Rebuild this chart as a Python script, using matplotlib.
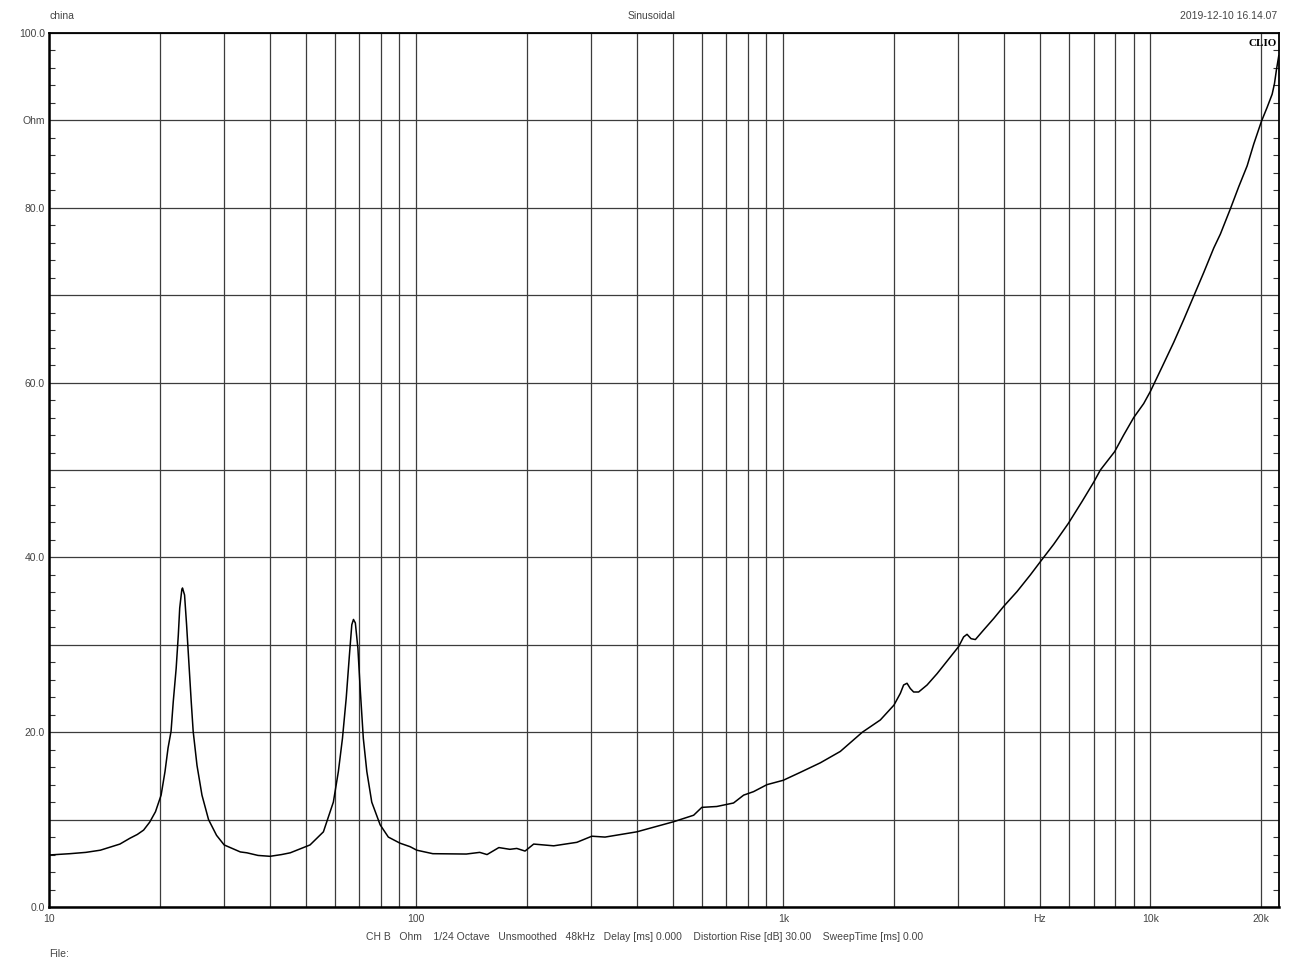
import numpy as np
import matplotlib
matplotlib.use("Agg")
import matplotlib.pyplot as plt
from matplotlib.ticker import FixedLocator, FixedFormatter, MultipleLocator, NullFormatter

# impedance curve (Hz, Ohm)
freq = [10, 11.4, 12.6, 13.8, 15.6, 16.6, 17.4, 18.1, 18.8, 19.5, 20.2, 20.7, 21.1, 21.5,
        21.8, 22.2, 22.5, 22.7, 23.0, 23.1, 23.4, 23.7, 24.0, 24.4, 24.7, 25.3, 26.1,
        27.2, 28.6, 30.0, 33.2, 34.6, 37.1, 40.0, 43.0, 45.4, 51.4, 55.9, 59.5, 61.4,
        63.0, 64.5, 65.8, 66.8, 67.5, 68.3, 69.4, 70.4, 71.8, 73.4, 75.7, 79.8, 84.0,
        90.4, 96.3, 100.4, 111, 137, 149, 156, 168, 180, 188, 198, 209, 237, 274, 301,
        327, 399, 502, 570, 600, 659, 732, 780, 830, 903, 1000, 1112, 1262, 1430, 1642,
        1838, 2002, 2084, 2127, 2173, 2218, 2265, 2337, 2464, 2624, 2851, 3004, 3099,
        3166, 3247, 3336, 3514, 3741, 3985, 4334, 4710, 5012, 5452, 5979, 6514, 7006,
        7307, 7991, 8456, 9006, 9588, 10000, 10762, 11572, 12323, 13122, 13973, 14878,
        15511, 16518, 17397, 18344, 19120, 20066, 20797, 21459, 21771, 22045, 22367]
ohm = [5.95, 6.1, 6.25, 6.5, 7.2, 7.86, 8.3, 8.8, 9.7, 10.9, 12.8, 15.5, 18.2, 20.1,
       23.5, 27.3, 31.1, 34.2, 36.3, 36.5, 35.7, 32.3, 28.5, 23.5, 20.1, 16.2, 12.8,
       10.0, 8.2, 7.1, 6.3, 6.2, 5.9, 5.8, 6.0, 6.2, 7.1, 8.6, 12.0, 15.5,
       19.3, 23.9, 28.8, 32.3, 32.9, 32.5, 29.6, 25.0, 19.3, 15.5, 12.0, 9.4, 8.0,
       7.3, 6.9, 6.5, 6.1, 6.06, 6.25, 6.0, 6.8, 6.6, 6.7, 6.4, 7.2, 7.0, 7.4, 8.1,
       8.0, 8.6, 9.75, 10.5, 11.4, 11.5, 11.9, 12.8, 13.2, 14.0, 14.5, 15.4, 16.5, 17.8,
       20.0, 21.4, 23.1, 24.45, 25.4, 25.6, 25.0, 24.6, 24.6, 25.4, 26.7, 28.6, 29.8,
       30.9, 31.2, 30.7, 30.6, 31.7, 33.0, 34.4, 36.1, 38.0, 39.5, 41.5, 43.9, 46.4,
       48.6, 50.0, 52.1, 54.0, 56.0, 57.6, 59.0, 61.8, 64.6, 67.2, 69.9, 72.6, 75.4,
       77.0, 79.9, 82.4, 84.8, 87.3, 89.9, 91.5, 93.0, 94.2, 95.8, 97.4]

x_ticks = [10, 100, 1000, 5000, 10000, 20000]
x_labels = ["10", "100", "1k", "Hz", "10k", "20k"]
y_ticks = [0, 10, 20, 30, 40, 50, 60, 70, 80, 90, 100]
y_labels = ["0.0", "", "20.0", "", "40.0", "", "60.0", "", "80.0", "Ohm", "100.0"]

plt.rcParams["font.family"] = ["Liberation Sans", "DejaVu Sans"]
txt = "#444444"

fig = plt.figure(figsize=(13.04, 9.77), dpi=100)
ax = fig.add_axes([49 / 1304, 1 - 907 / 977, 1230 / 1304, 874 / 977])

ax.plot(freq, ohm, color="black", lw=1.1, zorder=3)

ax.set_xscale("log")
ax.set_xlim(10, 22400)
ax.set_ylim(0, 100)

ax.xaxis.set_major_locator(FixedLocator(x_ticks))
ax.xaxis.set_major_formatter(FixedFormatter(x_labels))
ax.xaxis.set_minor_locator(FixedLocator(
    [m * d for d in (10, 100, 1000, 10000) for m in range(2, 10) if m * d < 22400]))
ax.xaxis.set_minor_formatter(NullFormatter())
ax.yaxis.set_major_locator(FixedLocator(y_ticks))
ax.yaxis.set_major_formatter(FixedFormatter(y_labels))
ax.yaxis.set_minor_locator(MultipleLocator(2))

ax.grid(True, which="both", axis="x", color="#3c3c3c", lw=0.9)
ax.grid(True, which="major", axis="y", color="#3c3c3c", lw=0.9)

ax.tick_params(axis="x", which="both", length=0, pad=5, labelsize=7.5, labelcolor=txt)
ax.tick_params(axis="y", which="major", length=0, pad=3, labelsize=7.5, labelcolor=txt)
ax.tick_params(axis="y", which="minor", direction="in", length=4, width=0.8,
               left=True, right=True, color="#333333")

for side in ["left", "bottom"]:
    ax.spines[side].set_linewidth(1.8)
for side in ["top", "right"]:
    ax.spines[side].set_linewidth(1.3)

ax.text(0.998, 0.993, "CLIO", transform=ax.transAxes, ha="right", va="top",
        fontsize=8, fontweight="bold", family=["Liberation Serif", "DejaVu Serif"])

fig.text(49 / 1304, 1 - 16 / 977, "china", ha="left", va="center", fontsize=7.5, color=txt)
fig.text(652 / 1304, 1 - 16 / 977, "Sinusoidal", ha="center", va="center", fontsize=7.5, color=txt)
fig.text(1277 / 1304, 1 - 16 / 977, "2019-12-10 16.14.07", ha="right", va="center",
         fontsize=7.5, color=txt)
fig.text(645 / 1304, 1 - 937 / 977,
         "CH B   Ohm    1/24 Octave   Unsmoothed   48kHz   Delay [ms] 0.000    "
         "Distortion Rise [dB] 30.00    SweepTime [ms] 0.00",
         ha="center", va="center", fontsize=7.5, color=txt)
fig.text(49 / 1304, 1 - 954 / 977, "File:", ha="left", va="center", fontsize=7.5, color=txt)

fig.savefig("out.png", dpi=100, facecolor="white")
